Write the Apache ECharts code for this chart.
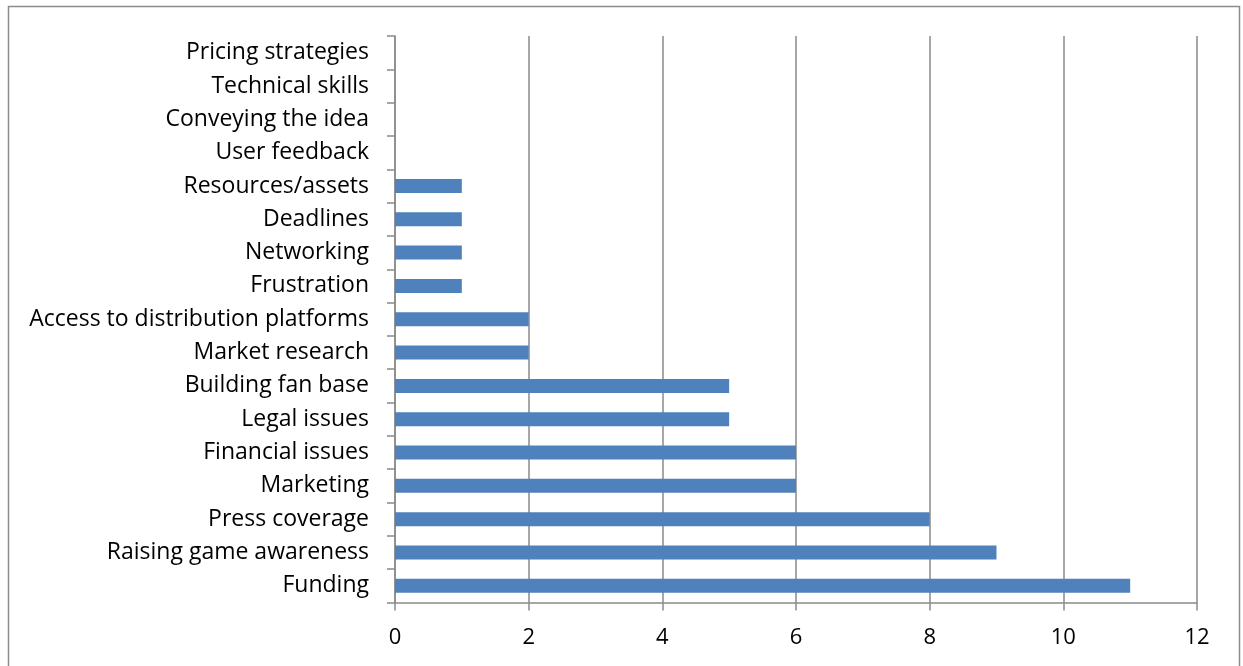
<!DOCTYPE html>
<html>
<head>
<meta charset="utf-8">
<script src="https://cdn.jsdelivr.net/npm/echarts@6/dist/echarts.min.js"></script>
<style>
  html, body { margin: 0; padding: 0; background: #fff; }
  #chart { width: 1243px; height: 666px; }
</style>
</head>
<body>
<div id="chart"></div>
<script>
// Challenges reported, listed bottom-to-top as drawn on the category axis
const categories = [
  'Funding', 'Raising game awareness', 'Press coverage', 'Marketing',
  'Financial issues', 'Legal issues', 'Building fan base', 'Market research',
  'Access to distribution platforms', 'Frustration', 'Networking', 'Deadlines',
  'Resources/assets', 'User feedback', 'Conveying the idea', 'Technical skills',
  'Pricing strategies'
];
const counts = [11, 9, 8, 6, 6, 5, 5, 2, 2, 1, 1, 1, 1, 0, 0, 0, 0];
const xTicks = [0, 2, 4, 6, 8, 10, 12];

const FONT = '"Open Sans", "Noto Sans", sans-serif';
const GRID_GREY = '#8a8a8a';

const chart = echarts.init(document.getElementById('chart'), null, { renderer: 'canvas' });
chart.setOption({
  animation: false,
  backgroundColor: '#fff',
  graphic: [{
    type: 'rect',
    shape: { x: 8.5, y: 6.5, width: 1231, height: 680 },
    style: { fill: 'none', stroke: '#8c8c8c', lineWidth: 1.5 },
    silent: true
  }],
  grid: { left: 395, right: 46, top: 36, bottom: 63.5, containLabel: false },
  xAxis: {
    type: 'value',
    min: xTicks[0],
    max: xTicks[xTicks.length - 1],
    interval: 2,
    axisLine: { show: true, lineStyle: { color: GRID_GREY, width: 1.5 } },
    axisTick: { show: true, length: 8, lineStyle: { color: GRID_GREY, width: 1.5 } },
    splitLine: { show: true, lineStyle: { color: GRID_GREY, width: 1.5 } },
    axisLabel: { color: '#000', fontFamily: FONT, fontSize: 22, margin: 24 }
  },
  yAxis: {
    type: 'category',
    data: categories,
    axisLine: { show: true, lineStyle: { color: GRID_GREY, width: 1.5 } },
    axisTick: { show: true, length: 8, alignWithLabel: false, lineStyle: { color: GRID_GREY, width: 1.5 } },
    axisLabel: { color: '#000', fontFamily: FONT, fontSize: 23, margin: 26, interval: 0 }
  },
  series: [{
    type: 'bar',
    data: counts,
    barWidth: 14,
    itemStyle: { color: '#4f81bd' }
  }]
});
</script>
</body>
</html>
